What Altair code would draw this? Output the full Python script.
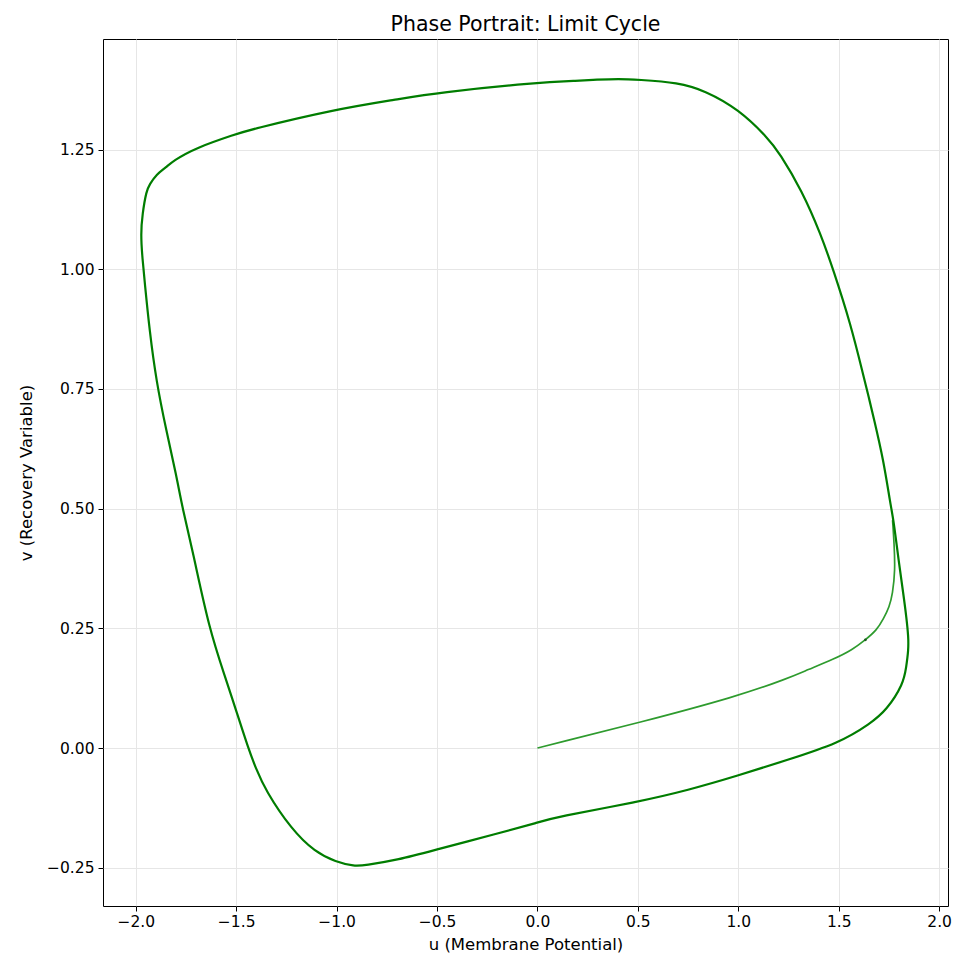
import altair as alt
import pandas as pd

# Limit cycle, traversed once, closed
cycle_u = [0.406, 0.499, 0.701, 0.835, 1.002, 1.146, 1.205, 1.316, 1.412, 1.472,
           1.560, 1.625, 1.650, 1.674, 1.723, 1.757, 1.773, 1.798, 1.822, 1.837,
           1.847, 1.847, 1.836, 1.822, 1.738, 1.658, 1.501, 1.244, 0.996, 0.751,
           0.497, 0.094, -0.001, -0.202, -0.502, -0.696, -0.861, -0.910, -1.004,
           -1.108, -1.223, -1.355, -1.404, -1.437, -1.503, -1.552, -1.635, -1.717,
           -1.766, -1.799, -1.848, -1.898, -1.931, -1.956, -1.967, -1.975, -1.967,
           -1.947, -1.931, -1.898, -1.848, -1.816, -1.700, -1.503, -1.437, -1.009,
           -0.696, -0.499, -0.005, 0.209, 0.291]
cycle_v = [1.398, 1.396, 1.390, 1.373, 1.334, 1.275, 1.243, 1.165, 1.072, 1.000,
           0.885, 0.774, 0.732, 0.690, 0.601, 0.510, 0.476, 0.392, 0.321, 0.273,
           0.232, 0.204, 0.169, 0.134, 0.079, 0.051, 0.010, -0.025, -0.058, -0.088,
           -0.113, -0.144, -0.156, -0.179, -0.212, -0.234, -0.245, -0.247, -0.238,
           -0.217, -0.171, -0.088, -0.040, -0.004, 0.082, 0.145, 0.249, 0.413,
           0.498, 0.572, 0.663, 0.767, 0.871, 0.976, 1.024, 1.073, 1.115,
           1.164, 1.177, 1.198, 1.213, 1.226, 1.254, 1.282, 1.291, 1.334,
           1.355, 1.369, 1.390, 1.394, 1.396]

# Transient from the initial condition (0, 0) until it joins the cycle
trans_u = [0.000, 0.094, 0.497, 0.996, 1.244, 1.343, 1.477, 1.567, 1.633, 1.689,
           1.723, 1.752, 1.768, 1.781, 1.776, 1.768]
trans_v = [0.000, 0.010, 0.052, 0.108, 0.145, 0.163, 0.186, 0.205, 0.226, 0.246,
           0.270, 0.295, 0.321, 0.371, 0.426, 0.476]

# small dark blip on the transient
dot_u = [1.633]
dot_v = [0.226]

x_ticks = [-2.0, -1.5, -1.0, -0.5, 0.0, 0.5, 1.0, 1.5, 2.0]
y_ticks = [-0.25, 0.0, 0.25, 0.5, 0.75, 1.0, 1.25]

cycle_df = pd.DataFrame({"u": cycle_u, "v": cycle_v, "i": range(len(cycle_u))})
trans_df = pd.DataFrame({"u": trans_u, "v": trans_v, "i": range(len(trans_u))})
dot_df = pd.DataFrame({"u": dot_u, "v": dot_v})

xs = alt.Scale(domain=[-2.163, 2.044], nice=False, zero=False)
ys = alt.Scale(domain=[-0.330, 1.481], nice=False, zero=False)

xenc = alt.X("u:Q", scale=xs, title="u (Membrane Potential)",
             axis=alt.Axis(values=x_ticks, format=".1f", labelPadding=3,
                           titlePadding=7))
yenc = alt.Y("v:Q", scale=ys, title="v (Recovery Variable)",
             axis=alt.Axis(values=y_ticks, format=".2f", labelPadding=4,
                           titlePadding=12))

cycle = alt.Chart(cycle_df).mark_line(
    color="#007d00", strokeWidth=2.2, interpolate="basis-closed"
).encode(x=xenc, y=yenc, order="i:Q")

trans = alt.Chart(trans_df).mark_line(
    color="#2e9b2e", strokeWidth=1.7, interpolate="basis"
).encode(x=xenc, y=yenc, order="i:Q")

dot = alt.Chart(dot_df).mark_point(
    filled=True, color="#1d5a1d", size=8, opacity=1
).encode(x=xenc, y=yenc)

chart = alt.layer(trans, cycle, dot).properties(
    width=845, height=867,
    title=alt.TitleParams("Phase Portrait: Limit Cycle", fontSize=20.5,
                          font="DejaVu Sans", fontWeight="normal",
                          color="#000", offset=4, anchor="middle"),
    autosize=alt.AutoSizeParams(type="none"),
    padding={"left": 95, "top": 31, "right": 4, "bottom": 49},
).configure_view(
    stroke="#000", strokeWidth=1
).configure_axis(
    grid=True, gridColor="#e6e6e6", gridWidth=1,
    domain=False, ticks=True, tickColor="#000", tickSize=5, tickWidth=1,
    labelFont="DejaVu Sans", labelFontSize=15.5, labelColor="#000",
    titleFont="DejaVu Sans", titleFontSize=16.5, titleFontWeight="normal",
    titleColor="#000",
)

chart.save("out.html", embed_options={"renderer": "svg", "actions": False})
